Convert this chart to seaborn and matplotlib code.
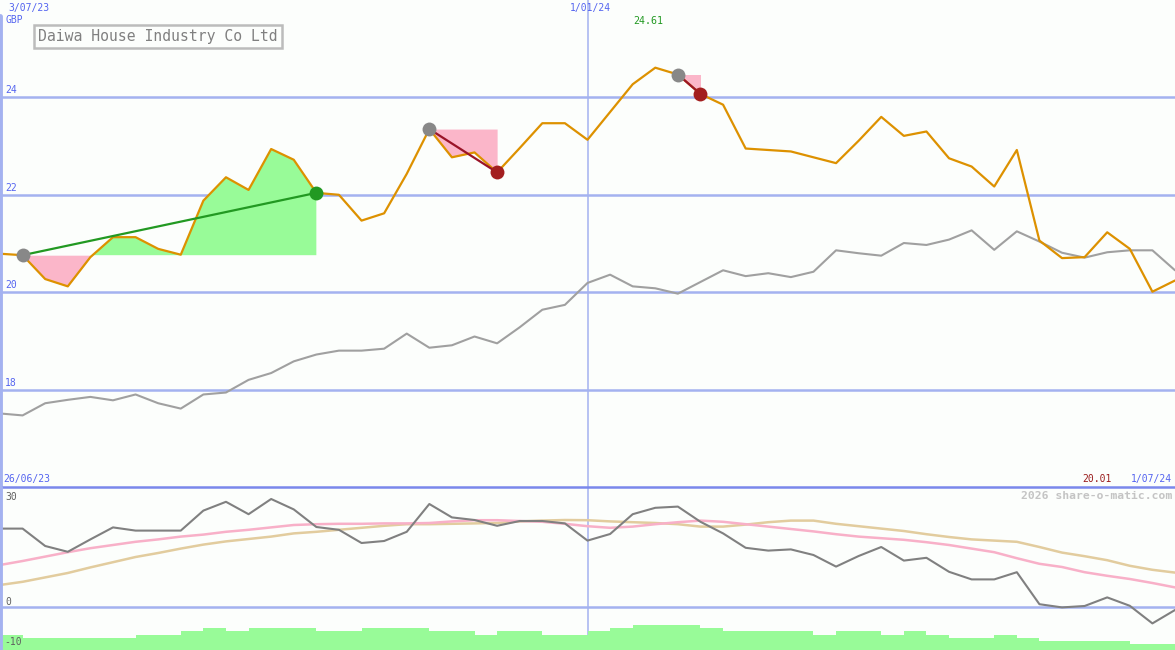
import numpy as np
import pandas as pd
import matplotlib
matplotlib.use("Agg")
import matplotlib.pyplot as plt
import seaborn as sns

# ---------------- data (weekly, 3/07/23 .. 1/07/24) ----------------
weeks = list(range(53))
price = [20.79, 20.76, 20.27, 20.12, 20.72, 21.13, 21.13, 20.89, 20.77, 21.88,
         22.36, 22.10, 22.94, 22.72, 22.04, 22.00, 21.47, 21.62, 22.43, 23.35,
         22.77, 22.87, 22.46, 22.96, 23.47, 23.47, 23.13, 23.70, 24.27, 24.61,
         24.47, 24.07, 23.85, 22.95, 22.92, 22.89, 22.77, 22.65, 23.11, 23.60,
         23.21, 23.30, 22.75, 22.58, 22.17, 22.92, 21.06, 20.70, 20.72, 21.23,
         20.89, 20.01, 20.24]
relative = [17.51, 17.47, 17.72, 17.79, 17.85, 17.78, 17.90, 17.72, 17.61, 17.90,
            17.94, 18.20, 18.34, 18.58, 18.72, 18.80, 18.80, 18.84, 19.15, 18.86,
            18.91, 19.09, 18.95, 19.28, 19.64, 19.74, 20.19, 20.36, 20.12, 20.08,
            19.97, 20.21, 20.45, 20.33, 20.39, 20.31, 20.42, 20.86, 20.80, 20.75,
            21.01, 20.97, 21.08, 21.27, 20.87, 21.25, 21.04, 20.81, 20.71, 20.82,
            20.86, 20.86, 20.45]
oscillator = [19.6, 19.6, 15.25, 13.8, 16.9, 19.9, 19.1, 19.1, 19.1, 24.1,
              26.3, 23.2, 27.0, 24.4, 20.0, 19.3, 16.0, 16.5, 18.8, 25.75,
              22.4, 21.75, 20.3, 21.5, 21.5, 20.9, 16.6, 18.25, 23.2, 24.8,
              25.1, 21.3, 18.4, 14.8, 14.1, 14.4, 13.0, 10.1, 12.75, 15.0,
              11.6, 12.3, 8.8, 6.9, 6.9, 8.7, 0.7, -0.1, 0.25, 2.4,
              0.3, -4.1, -0.75]
ma_fast = [10.5, 11.5, 12.6, 13.7, 14.7, 15.5, 16.3, 16.9, 17.6, 18.1,
           18.8, 19.3, 19.9, 20.5, 20.7, 20.8, 20.8, 20.9, 20.9, 21.0,
           21.4, 21.7, 21.7, 21.5, 21.3, 20.8, 20.2, 19.8, 20.1, 20.7,
           21.2, 21.6, 21.3, 20.7, 20.1, 19.5, 18.9, 18.2, 17.6, 17.2,
           16.8, 16.2, 15.5, 14.6, 13.7, 12.2, 10.8, 10.0, 8.7, 7.8,
           7.0, 6.0, 4.9]
ma_slow = [5.5, 6.3, 7.4, 8.5, 9.9, 11.2, 12.5, 13.5, 14.6, 15.6,
           16.4, 17.0, 17.6, 18.4, 18.8, 19.3, 19.8, 20.3, 20.7, 20.7,
           20.8, 20.9, 21.0, 21.4, 21.6, 21.75, 21.7, 21.4, 21.2, 21.0,
           20.7, 20.1, 20.1, 20.6, 21.2, 21.6, 21.6, 20.8, 20.2, 19.6,
           19.0, 18.2, 17.5, 16.9, 16.6, 16.3, 15.0, 13.6, 12.7, 11.7,
           10.3, 9.3, 8.6]
volume = [1.5, 1.23, 1.23, 1.23, 1.23, 1.23, 1.5, 1.5, 1.9, 2.2,
          1.9, 2.2, 2.2, 2.2, 1.9, 1.9, 2.2, 2.2, 2.2, 1.9,
          1.9, 1.5, 1.9, 1.9, 1.5, 1.5, 1.9, 2.2, 2.5, 2.5,
          2.5, 2.2, 1.9, 1.9, 1.9, 1.9, 1.5, 1.9, 1.9, 1.5,
          1.9, 1.5, 1.23, 1.23, 1.5, 1.23, 0.9, 0.9, 0.9, 0.9,
          0.6, 0.6]
buy_signals = [(1, 14)]
sell_signals = [(19, 22), (30, 31)]
price_ticks = [18, 20, 22, 24]
osc_ticks = [30, 0, -10]
title = "Daiwa House Industry Co Ltd"
date_start, date_mid, date_end, date_first = "3/07/23", "1/01/24", "1/07/24", "26/06/23"
mid_week = 26

# ---------------- style ----------------
sns.set_theme(style="white")
plt.rcParams["font.family"] = ["DejaVu Sans Mono", "DejaVu Sans"]
BG = "#fcfefc"
GRID = "#a4b2f0"
SEP = "#7a88ec"
LBL = "#5464f0"
ORANGE = "#dd9100"
GREY = "#a0a0a0"

W, H = 1175, 650
fig = plt.figure(figsize=(W / 100, H / 100), dpi=100, facecolor=BG)
split = 163 / H
ax = fig.add_axes([0, split, 1, 1 - split])
ax2 = fig.add_axes([0, 0, 1, split])
for a in (ax, ax2):
    a.set_facecolor(BG)
    a.set_xlim(0, 52)
    a.set_xticks([])
    a.set_yticks([])
    for s in a.spines.values():
        s.set_visible(False)
ax.set_ylim(16, 26)
ax2.set_ylim(-10.75, 30)

x = np.array(weeks, dtype=float)
p = np.array(price)

# grid lines
for t in price_ticks:
    ax.axhline(t, color=GRID, lw=1.8, zorder=1)
    ax.annotate(str(t), xy=(0, t), xycoords=("axes fraction", "data"),
                xytext=(5, 2), textcoords="offset pixels", ha="left", va="bottom",
                fontsize=7, color=LBL)
ax2.axhline(0, color=GRID, lw=1.8, zorder=1)
ax2.axhline(30, color=SEP, lw=1.8, zorder=5, clip_on=False)
ax.axvline(mid_week, color=GRID, lw=1.1, zorder=1)
ax2.axvline(mid_week, color=GRID, lw=1.1, zorder=1)
ax.axvline(0, ymax=(487 - 16) / 487, color=GRID, lw=3.5, zorder=6, clip_on=False)

# signal fills
for (i0, i1) in buy_signals:
    xs, ys = x[i0:i1 + 1], p[i0:i1 + 1]
    base = p[i0]
    ax.fill_between(xs, base, ys, where=ys >= base, interpolate=True,
                    color="#98fb98", lw=0, zorder=2)
    ax.fill_between(xs, base, ys, where=ys <= base, interpolate=True,
                    color="#fbb6c9", lw=0, zorder=2)
for (i0, i1) in sell_signals:
    xs, ys = x[i0:i1 + 1], p[i0:i1 + 1]
    base = p[i0]
    ax.fill_between(xs, base, ys, where=ys <= base, interpolate=True,
                    color="#fbb6c9", lw=0, zorder=2)

# main lines
sns.lineplot(x=weeks, y=relative, ax=ax, color=GREY, lw=1.5, zorder=3)
sns.lineplot(x=weeks, y=price, ax=ax, color=ORANGE, lw=1.6, zorder=4)

# trend lines and markers
for (i0, i1) in buy_signals:
    ax.plot([x[i0], x[i1]], [p[i0], p[i1]], color="#229922", lw=1.6, zorder=5)
    ax.scatter([x[i0]], [p[i0]], s=100, color="#888888", zorder=6, lw=0)
    ax.scatter([x[i1]], [p[i1]], s=100, color="#229922", zorder=6, lw=0)
for (i0, i1) in sell_signals:
    ax.plot([x[i0], x[i1]], [p[i0], p[i1]], color="#9a1428", lw=1.6, zorder=5)
    ax.scatter([x[i0]], [p[i0]], s=100, color="#888888", zorder=6, lw=0)
    ax.scatter([x[i1]], [p[i1]], s=100, color="#a31f1f", zorder=6, lw=0)

# lower panel
axv = ax2.twinx()
axv.set_ylim(0, 16.3)
axv.set_yticks([])
for s in axv.spines.values():
    s.set_visible(False)
axv.bar(x[:-1], volume, width=1.0, align="edge", color="#98fb98", lw=0, zorder=2)
axv.axvline(0, color=GRID, lw=3.5, zorder=6, clip_on=False)
sns.lineplot(x=weeks, y=ma_slow, ax=ax2, color="#e2cc9e", lw=1.8, zorder=3)
sns.lineplot(x=weeks, y=ma_fast, ax=ax2, color="#f8b0c8", lw=1.8, zorder=3)
sns.lineplot(x=weeks, y=oscillator, ax=ax2, color="#808080", lw=1.5, zorder=4)

# texts
def ftext(px, py, s, **kw):
    fig.text(px / W, 1 - py / H, s, va="center", **kw)

# oscillator tick labels (placed above their level, 30 kept inside the panel)
osc_to_px = lambda v: 607 - 4 * v
for t in osc_ticks:
    py = osc_to_px(t) - 5 if t != 30 else osc_to_px(t) + 10
    ftext(5 if t >= 0 else 4, py, str(t), fontsize=7, color="#606060", ha="left",
          zorder=10)

ftext(8, 8, date_start, fontsize=7, color=LBL, ha="left")
ftext(5, 20, "GBP", fontsize=7, color=LBL, ha="left")
ftext(590, 8, date_mid, fontsize=7, color=LBL, ha="center")
ftext(648, 21, f"{max(price):.2f}", fontsize=7.2, color="#229922", ha="center")
ftext(3, 479, date_first, fontsize=7, color=LBL, ha="left")
ftext(1172, 479, date_end, fontsize=7, color=LBL, ha="right")
ftext(1112, 479, f"{min(price):.2f}", fontsize=7, color="#9a1c1c", ha="right")
ftext(1172, 496, "2026 share-o-matic.com", fontsize=8.2, color="#c4c4c4",
      ha="right", fontweight="bold")
ftext(38, 36.5, title, fontsize=10.6, color="#808080", ha="left",
      bbox=dict(boxstyle="square,pad=0.3", fc=BG, ec="#bcbcbc", lw=1.8))

fig.savefig("out.png", dpi=100, facecolor=BG)
